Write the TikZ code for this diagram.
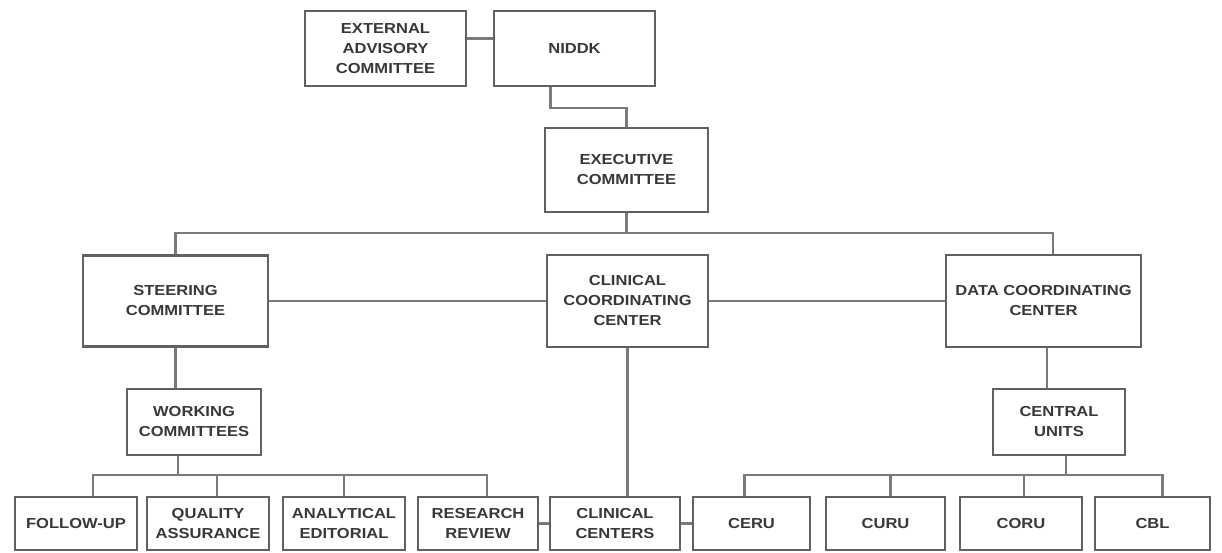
\documentclass[tikz,border=0pt]{standalone}
\usepackage{fontspec}
\newfontfamily\lblfont{Liberation Sans}[FakeStretch=1.14]
\begin{document}
\begin{tikzpicture}[x=1pt,y=-1pt,
  box/.style={draw=black!62, line width=2.6pt, fill=white, align=center,
    inner sep=0pt, font=\lblfont\bfseries\fontsize{14.5}{20}\selectfont, text=black!78},
  link/.style={draw=black!52, line width=2.3pt}]
\useasboundingbox (0,0) rectangle (1222,553);
\fill[white] (0,0) rectangle (1222,553);
% top
\node[box, minimum width=161pt, minimum height=75pt] (EAC) at (385.5,48.5) {EXTERNAL\\ADVISORY\\COMMITTEE};
\node[box, minimum width=161pt, minimum height=75pt] (NIDDK) at (574.5,48.5) {NIDDK};
\node[box, minimum width=163pt, minimum height=84pt] (EXEC) at (626.5,170) {EXECUTIVE\\COMMITTEE};
% middle
\node[box, minimum width=185pt, minimum height=91pt] (STEER) at (175.5,301) {STEERING\\COMMITTEE};
\node[box, minimum width=161pt, minimum height=92pt] (CCC) at (627.5,301) {CLINICAL\\COORDINATING\\CENTER};
\node[box, minimum width=195pt, minimum height=92pt] (DCC) at (1043.5,301) {DATA COORDINATING\\CENTER};
\node[box, minimum width=134pt, minimum height=66pt] (WC) at (194,422) {WORKING\\COMMITTEES};
\node[box, minimum width=132pt, minimum height=66pt] (CU) at (1059,422) {CENTRAL\\UNITS};
% bottom row
\tikzset{bot/.style={box, minimum height=53pt}}
\node[bot, minimum width=122pt] (FU) at (76,523.5) {FOLLOW-UP};
\node[bot, minimum width=122pt] (QA) at (208,523.5) {QUALITY\\ASSURANCE};
\node[bot, minimum width=122pt] (AE) at (344,523.5) {ANALYTICAL\\EDITORIAL};
\node[bot, minimum width=120pt] (RR) at (478,523.5) {RESEARCH\\REVIEW};
\node[bot, minimum width=130pt] (CC) at (615,523.5) {CLINICAL\\CENTERS};
\node[bot, minimum width=117pt] (CERU) at (751.5,523.5) {CERU};
\node[bot, minimum width=119pt] (CURU) at (885.5,523.5) {CURU};
\node[bot, minimum width=122pt] (CORU) at (1021,523.5) {CORU};
\node[bot, minimum width=115pt] (CBL) at (1152.5,523.5) {CBL};
% connectors
\coordinate (bt) at (0,233);
\coordinate (bl) at (0,475);
\draw[link] ([yshift=10pt]EAC.east) -- ([yshift=10pt]NIDDK.west);
\draw[link] ([xshift=-24pt]NIDDK.south) -- ++(0,21) -| (EXEC.north);
\draw[link] (EXEC.south) -- (EXEC.south |- bt);
\draw[link] (STEER.north) -- (STEER.north |- bt) -- ([xshift=9.5pt]DCC.north |- bt) -- ([xshift=9.5pt]DCC.north);
\draw[link] (STEER.east) -- (CCC.west);
\draw[link] (CCC.east) -- (DCC.west);
\draw[link] (STEER.south) -- (STEER.south |- WC.north);
\draw[link] ([xshift=-16pt]WC.south) -- ([xshift=-16pt]WC.south |- bl);
\draw[link] ([xshift=17pt]FU.north) -- ([xshift=17pt]FU.north |- bl) -- ([xshift=9pt]RR.north |- bl) -- ([xshift=9pt]RR.north);
\draw[link] ([xshift=9pt]QA.north) -- ([xshift=9pt]QA.north |- bl);
\draw[link] (AE.north) -- (AE.north |- bl);
\draw[link] (CCC.south) -- (CCC.south |- CC.north);
\draw[link] (RR.east) -- (CC.west);
\draw[link] (CC.east) -- (CERU.west);
\draw[link] ([xshift=3.5pt]DCC.south) -- ([xshift=3.5pt]DCC.south |- CU.north);
\draw[link] ([xshift=7pt]CU.south) -- ([xshift=7pt]CU.south |- bl);
\draw[link] ([xshift=-7pt]CERU.north) -- ([xshift=-7pt]CERU.north |- bl) -- ([xshift=10pt]CBL.north |- bl) -- ([xshift=10pt]CBL.north);
\draw[link] ([xshift=5pt]CURU.north) -- ([xshift=5pt]CURU.north |- bl);
\draw[link] ([xshift=3pt]CORU.north) -- ([xshift=3pt]CORU.north |- bl);
\end{tikzpicture}
\end{document}
